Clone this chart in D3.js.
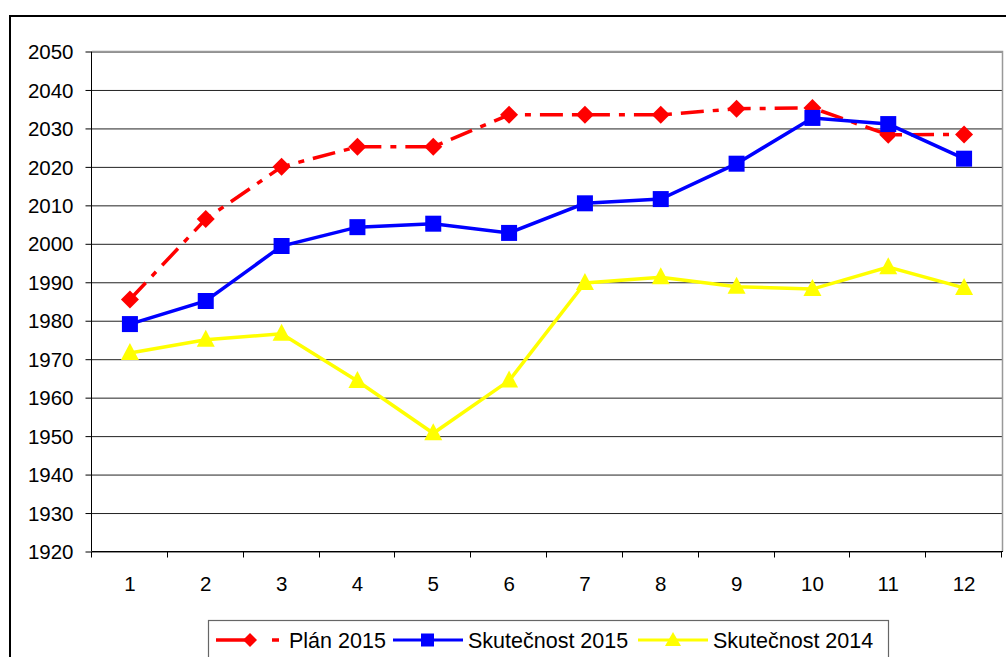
<!DOCTYPE html>
<html>
<head>
<meta charset="utf-8">
<script src="https://cdn.jsdelivr.net/npm/d3@7"></script>
<style>
  body { margin: 0; background: #fff; }
  text { font-family: "Liberation Sans", Arial, sans-serif; }
</style>
</head>
<body>
<div id="canvas"></div>
<script>
var width = 1006,
    height = 657;

// data
var months = ["1", "2", "3", "4", "5", "6", "7", "8", "9", "10", "11", "12"];
var plan2015 = [1985.4, 2006.3, 2019.9, 2025.1, 2025.1, 2033.4, 2033.4, 2033.4, 2035.0, 2035.2, 2028.2, 2028.3];
var skut2015 = [1979.0, 1985.0, 1999.3, 2004.2, 2005.1, 2002.7, 2010.4, 2011.5, 2020.7, 2032.6, 2031.0, 2022.0];
var skut2014 = [1971.5, 1974.9, 1976.5, 1964.2, 1950.6, 1964.3, 1989.7, 1991.2, 1988.7, 1988.1, 1993.8, 1988.4];
var yTicks = d3.range(1920, 2051, 10);
var seriesNames = ["Plán 2015", "Skutečnost 2015", "Skutečnost 2014"];

var plot = {left: 92, right: 1002, top: 51, bottom: 551};

var svg = d3.select("#canvas").append("svg")
    .attr("width", width)
    .attr("height", height);

// outer chart frame
svg.append("rect")
    .attr("x", 10).attr("y", 16)
    .attr("width", 1100).attr("height", 800)
    .attr("fill", "none")
    .attr("stroke", "#000")
    .attr("stroke-width", 2);

var x = d3.scaleBand()
    .domain(months)
    .range([plot.left, plot.right])
    .padding(0);

var y = d3.scaleLinear()
    .domain([1920, 2050])
    .range([plot.bottom, plot.top]);

// gridlines
svg.append("g")
    .attr("transform", "translate(" + plot.left + ",0.5)")
    .call(d3.axisLeft(y).tickValues(yTicks).tickSize(-(plot.right - plot.left)).tickFormat(""))
    .call(function(g) { g.select(".domain").remove(); })
    .selectAll("line")
    .attr("stroke", "#222");

// plot border (right + top) in grey
svg.append("path")
    .attr("d", "M" + plot.left + "," + (plot.top + 0.5) + "H" + (plot.right + 0.5) + "V" + (plot.bottom + 0.5))
    .attr("fill", "none")
    .attr("stroke", "#999")
    .attr("stroke-width", 1.5);

// y axis
var yAxis = svg.append("g")
    .attr("transform", "translate(" + (plot.left - 0.5) + ",0.5)")
    .call(d3.axisLeft(y).tickValues(yTicks).tickSize(6).tickPadding(12).tickFormat(d3.format("d")));
yAxis.selectAll("text")
    .attr("font-size", 20.5)
    .attr("fill", "#000")
    .attr("dy", "0.35em");
yAxis.select(".domain").attr("d", "M0," + plot.top + "V" + plot.bottom).attr("stroke", "#000");
yAxis.selectAll("line").attr("stroke", "#000");

// x axis: labels in band centres, ticks on band edges
var xAxis = svg.append("g")
    .attr("transform", "translate(0," + (plot.bottom + 0.5) + ")")
    .call(d3.axisBottom(x).tickSize(0).tickPadding(25));
xAxis.selectAll("text")
    .attr("font-size", 20.5)
    .attr("fill", "#000")
    .attr("dy", "0.71em");
xAxis.select(".domain").attr("d", "M" + plot.left + ",0H" + (plot.right + 1)).attr("stroke", "#000");
xAxis.selectAll(".edge")
    .data(d3.range(0, months.length + 1))
    .enter().append("line")
    .attr("class", "edge")
    .attr("x1", function(i) { return Math.round(plot.left + i * x.step()) - 0.5; })
    .attr("x2", function(i) { return Math.round(plot.left + i * x.step()) - 0.5; })
    .attr("y1", 0).attr("y2", 6)
    .attr("stroke", "#000");

var line = d3.line()
    .x(function(d, i) { return x(months[i]) + x.bandwidth() / 2; })
    .y(function(d) { return y(d); });

function cx(i) { return x(months[i]) + x.bandwidth() / 2; }

// Plán 2015
svg.append("path")
    .datum(plan2015)
    .attr("d", line)
    .attr("fill", "none")
    .attr("stroke", "#ff0000")
    .attr("stroke-width", 3.5)
    .attr("stroke-dasharray", "23,9,6,9");
svg.selectAll(".diamond")
    .data(plan2015).enter()
    .append("path")
    .attr("class", "diamond")
    .attr("transform", function(d, i) { return "translate(" + cx(i) + "," + y(d) + ")"; })
    .attr("d", "M0,-9L9,0L0,9L-9,0Z")
    .attr("fill", "#ff0000");

// Skutečnost 2015
svg.append("path")
    .datum(skut2015)
    .attr("d", line)
    .attr("fill", "none")
    .attr("stroke", "#0000ff")
    .attr("stroke-width", 3.5);
svg.selectAll(".square")
    .data(skut2015).enter()
    .append("rect")
    .attr("class", "square")
    .attr("x", function(d, i) { return cx(i) - 8; })
    .attr("y", function(d) { return y(d) - 8; })
    .attr("width", 16).attr("height", 16)
    .attr("fill", "#0000ff");

// Skutečnost 2014
svg.append("path")
    .datum(skut2014)
    .attr("d", line)
    .attr("fill", "none")
    .attr("stroke", "#ffff00")
    .attr("stroke-width", 3.5);
svg.selectAll(".tri")
    .data(skut2014).enter()
    .append("path")
    .attr("class", "tri")
    .attr("transform", function(d, i) { return "translate(" + cx(i) + "," + y(d) + ")"; })
    .attr("d", "M0,-10L9,7L-9,7Z")
    .attr("fill", "#ffff00");

// legend
var legend = svg.append("g");
legend.append("rect")
    .attr("x", 208.5).attr("y", 620.5)
    .attr("width", 680).attr("height", 60)
    .attr("fill", "#fff")
    .attr("stroke", "#666")
    .attr("stroke-width", 1.2);

var ly = 640;
// red
legend.append("line").attr("x1", 216).attr("x2", 245).attr("y1", ly).attr("y2", ly)
    .attr("stroke", "#ff0000").attr("stroke-width", 3.5);
legend.append("line").attr("x1", 272).attr("x2", 279).attr("y1", ly).attr("y2", ly)
    .attr("stroke", "#ff0000").attr("stroke-width", 3.5);
legend.append("path").attr("transform", "translate(250," + ly + ")")
    .attr("d", "M0,-7L7,0L0,7L-7,0Z").attr("fill", "#ff0000");
// blue
legend.append("line").attr("x1", 393).attr("x2", 463).attr("y1", ly).attr("y2", ly)
    .attr("stroke", "#0000ff").attr("stroke-width", 3);
legend.append("rect").attr("x", 421).attr("y", ly - 6.5).attr("width", 13).attr("height", 13)
    .attr("fill", "#0000ff");
// yellow
legend.append("line").attr("x1", 638).attr("x2", 708).attr("y1", ly).attr("y2", ly)
    .attr("stroke", "#ffff00").attr("stroke-width", 3);
legend.append("path").attr("transform", "translate(673," + ly + ")")
    .attr("d", "M0,-8L8,6L-8,6Z").attr("fill", "#ffff00");

var textX = [289, 468, 713];
legend.selectAll(".ltext")
    .data(seriesNames).enter()
    .append("text")
    .attr("class", "ltext")
    .attr("x", function(d, i) { return textX[i]; })
    .attr("y", ly)
    .attr("dy", "0.35em")
    .attr("font-size", 21.5)
    .attr("fill", "#000")
    .text(function(d) { return d; });
</script>
</body>
</html>
